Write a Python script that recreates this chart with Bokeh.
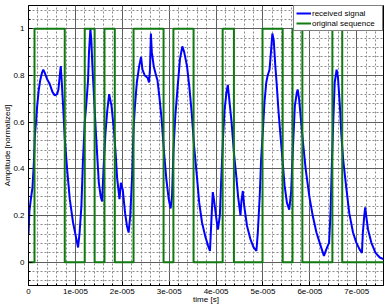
import numpy as np
from bokeh.plotting import figure
from bokeh.models import FixedTicker, Range1d
from bokeh.embed import file_html
from bokeh.resources import INLINE

# received signal (time in microseconds, normalized amplitude)
sig_t_us = [0, 0.2, 0.5, 0.85, 1.13, 1.35, 1.6, 1.85, 2.2, 2.5, 2.85, 3.15, 3.5, 3.95, 4.5, 5.1, 5.6,
            6.1, 6.38, 6.67, 6.88, 7.1, 7.38, 7.73, 8.23, 8.8, 9.5, 10.2, 10.57, 10.9, 11.28, 11.6,
            12.0, 12.34, 12.7, 12.9, 13.2, 13.4, 13.6, 13.97, 14.3, 14.7, 15.0, 15.4, 15.7, 16.0,
            16.4, 16.8, 17.2, 17.7, 18.2, 18.6, 18.9, 19.4, 19.7, 20.1, 20.6, 21.0, 21.35, 21.7,
            22.1, 22.4, 22.7, 23.1, 23.6, 24.0, 24.3, 24.8, 25.4, 25.7, 25.9, 26.1, 26.3, 26.7,
            27.2, 27.5, 27.9, 28.4, 28.9, 29.4, 29.9, 30.3, 30.6, 30.9, 31.3, 31.8, 32.3, 32.8,
            33.2, 33.8, 34.3, 34.8, 35.3, 35.9, 36.4, 37.0, 37.7, 38.3, 38.7, 39.0, 39.3, 39.6,
            40.1, 40.4, 40.8, 41.1, 41.5, 41.8, 42.2, 42.5, 42.8, 43.3, 43.8, 44.3, 44.7, 45.2,
            45.4, 45.7, 46.0, 46.6, 47.3, 48.0, 48.6, 48.9, 49.3, 49.6, 50.0, 50.3, 50.7, 51.0,
            51.4, 51.7, 52.0, 52.3, 52.6, 52.9, 53.3, 53.7, 54.2, 54.6, 55.1, 55.6, 56.0, 56.3,
            56.5, 56.8, 57.2, 57.4, 57.7, 58.1, 58.6, 59.1, 59.9, 60.6, 61.4, 62.3, 63.0, 63.5,
            64.1, 64.4, 64.7, 65.0, 65.3, 65.7, 66.0, 66.4, 66.7, 67.1, 67.7, 68.4, 69.2, 69.9,
            70.6, 71.1, 71.3, 71.6, 71.8, 72.0, 72.4, 73.1, 74.0, 74.9, 75.7]
sig_v = [0.12, 0.22, 0.27, 0.32, 0.42, 0.54, 0.6, 0.67, 0.74, 0.78, 0.81, 0.825, 0.81, 0.785, 0.765,
         0.73, 0.715, 0.72, 0.74, 0.80, 0.84, 0.77, 0.67, 0.53, 0.40, 0.27, 0.17, 0.10, 0.063,
         0.127, 0.24, 0.43, 0.60, 0.68, 0.78, 0.90, 1.0, 0.95, 0.85, 0.71, 0.58, 0.44, 0.34, 0.28,
         0.26, 0.40, 0.55, 0.65, 0.72, 0.67, 0.57, 0.46, 0.36, 0.27, 0.34, 0.31, 0.21, 0.155,
         0.127, 0.20, 0.37, 0.57, 0.67, 0.77, 0.84, 0.88, 0.825, 0.80, 0.79, 0.77, 0.825, 0.98,
         0.90, 0.84, 0.80, 0.78, 0.71, 0.61, 0.47, 0.355, 0.27, 0.23, 0.28, 0.47, 0.625, 0.75,
         0.87, 0.925, 0.90, 0.84, 0.75, 0.64, 0.50, 0.37, 0.255, 0.17, 0.11, 0.07, 0.048, 0.18,
         0.30, 0.26, 0.18, 0.14, 0.20, 0.355, 0.54, 0.65, 0.725, 0.76, 0.70, 0.60, 0.47, 0.37,
         0.28, 0.20, 0.26, 0.305, 0.24, 0.155, 0.10, 0.063, 0.048, 0.127, 0.28, 0.44, 0.57, 0.68,
         0.77, 0.80, 0.825, 0.90, 0.98, 0.95, 0.85, 0.77, 0.65, 0.55, 0.43, 0.33, 0.255, 0.225,
         0.30, 0.45, 0.54, 0.67, 0.725, 0.74, 0.70, 0.61, 0.50, 0.40, 0.28, 0.20, 0.127, 0.07,
         0.027, 0.055, 0.084, 0.21, 0.43, 0.61, 0.77, 0.825, 0.79, 0.67, 0.55, 0.44, 0.33, 0.21,
         0.127, 0.084, 0.055, 0.04, 0.127, 0.20, 0.235, 0.20, 0.14, 0.084, 0.04, 0.02, 0.013]

# original bit sequence: level changes (time in microseconds) and levels held after them
seq_t_us = [0, 1.28, 7.73, 11.99, 14.1, 16.2, 18.4, 22.4, 28.8, 30.9, 35.2, 41.4, 43.8, 49.9,
            54.2, 56.3, 58.4, 64.8, 66.9, 75.7]
seq_v = [0, 1, 0, 1, 0, 1, 0, 1, 0, 1, 0, 1, 0, 1, 0, 1, 0, 1, 0, 0]

x_ticks = [0, 1e-5, 2e-5, 3e-5, 4e-5, 5e-5, 6e-5, 7e-5]
x_tick_labels = ["0", "1e-005", "2e-005", "3e-005", "4e-005", "5e-005", "6e-005", "7e-005"]
y_ticks = [0, 0.2, 0.4, 0.6, 0.8, 1]
y_tick_labels = ["0", "0.2", "0.4", "0.6", "0.8", "1"]

sig_t = np.array(sig_t_us) * 1e-6
seq_t = np.array(seq_t_us) * 1e-6

FONT = "Liberation Sans"

p = figure(width=384, height=306, output_backend="svg", toolbar_location=None,
           x_range=Range1d(0, 7.57e-5), y_range=Range1d(-0.1, 1.1),
           min_border_left=28, min_border_right=1, min_border_top=5, min_border_bottom=19)
p.background_fill_color = "white"
p.border_fill_color = "white"
p.outline_line_color = "black"
p.outline_line_width = 1

x_minor = [k * 2e-6 for k in range(0, 38) if k % 5]
y_minor = [k * 0.04 for k in range(-2, 28) if k % 5]
p.xaxis.ticker = FixedTicker(ticks=x_ticks, minor_ticks=x_minor)
p.yaxis.ticker = FixedTicker(ticks=y_ticks, minor_ticks=y_minor)
p.xgrid.ticker = p.xaxis.ticker
p.ygrid.ticker = p.yaxis.ticker
p.xaxis.major_label_overrides = dict(zip(x_ticks, x_tick_labels))
p.yaxis.major_label_overrides = dict(zip(y_ticks, y_tick_labels))

for ax in (p.xaxis, p.yaxis):
    ax.axis_line_color = "black"
    ax.major_tick_line_color = "black"
    ax.minor_tick_line_color = "black"
    ax.major_tick_in = 4
    ax.major_tick_out = 0
    ax.minor_tick_in = 2
    ax.minor_tick_out = 0
    ax.major_label_text_font = FONT
    ax.major_label_text_font_size = "8px"
    ax.major_label_text_color = "black"
    ax.axis_label_text_font = FONT
    ax.axis_label_text_font_size = "8px"
    ax.axis_label_text_font_style = "normal"
    ax.axis_label_text_color = "black"

p.xaxis.axis_label = "time [s]"
p.yaxis.axis_label = "Amplitude [normalized]"
p.xaxis.major_label_standoff = 3
p.xaxis.axis_label_standoff = -2
p.yaxis.major_label_standoff = 4
p.yaxis.axis_label_standoff = -2

for g in (p.xgrid, p.ygrid):
    g.grid_line_color = "#5e5e5e"
    g.grid_line_width = 1
    g.minor_grid_line_color = "#8a8a8a"
    g.minor_grid_line_dash = "2 2"
    g.minor_grid_line_width = 1

p.line(sig_t, sig_v, line_color="#0000ff", line_width=2, legend_label="received signal")
p.step(seq_t, seq_v, mode="after", line_color="#107a10", line_width=2,
       legend_label="original sequence")

lg = p.legend[0]
lg.location = "top_right"
lg.margin = 0
lg.padding = 2
lg.spacing = 0
lg.glyph_width = 15
lg.glyph_height = 10
lg.label_height = 10
lg.label_width = 68
lg.label_standoff = 1
lg.label_text_font = FONT
lg.label_text_font_size = "8px"
lg.label_text_color = "black"
lg.border_line_color = "black"
lg.border_line_width = 1
lg.background_fill_color = "white"
lg.background_fill_alpha = 1

open("out.html", "w").write(file_html(p, INLINE))
